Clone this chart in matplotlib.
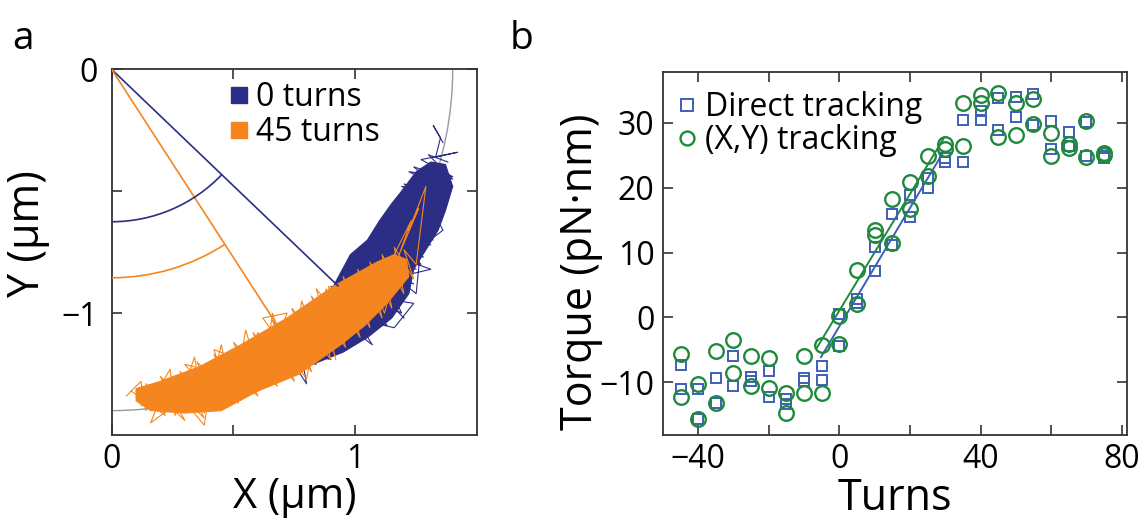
import numpy as np
import matplotlib
matplotlib.use('Agg')
import matplotlib.pyplot as plt
from matplotlib.patches import Arc, Polygon
from matplotlib.lines import Line2D

plt.rcParams['font.family'] = ['Open Sans', 'DejaVu Sans']
plt.rcParams['axes.unicode_minus'] = True

# ---------------- panel b data ----------------
turns = [-45, -40, -35, -30, -25, -20, -15, -10, -5, 0, 5, 10, 15, 20, 25,
         30, 35, 40, 45, 50, 55, 60, 65, 70, 75]
direct_a = [-7.3, -11.0, -9.3, -6.0, -9.2, -8.2, -12.5, -9.4, -7.4, 0.5, 2.9,
            10.8, 16.0, 18.9, 21.5, 24.6, 30.4, 31.8, 33.8, 34.0, 34.4, 30.3,
            28.6, 30.1, 24.5]
direct_b = [-11.0, -15.6, -13.1, -10.5, -9.8, -12.2, -13.3, -9.8, -9.7, -4.4,
            2.3, 7.2, 11.2, 15.5, 20.0, 24.0, 24.0, 30.4, 28.9, 30.9, 29.6,
            25.9, 26.4, 24.9, 24.8]
xy_a = [-5.6, -10.2, -5.1, -3.5, -5.9, -6.3, -11.7, -5.9, -4.2, 0.3, 7.3,
        13.5, 18.2, 20.8, 24.8, 26.7, 33.0, 34.2, 34.5, 33.0, 33.6, 28.4,
        26.7, 30.2, 25.3]
xy_b = [-12.3, -15.6, -13.1, -8.5, -10.5, -10.8, -14.7, -11.6, -11.7, -4.1,
        2.0, 12.7, 11.4, 16.7, 21.8, 26.0, 26.4, 33.0, 27.8, 28.1, 29.8,
        24.9, 26.1, 24.7, 25.0]
fit_direct_turns = [-5.2, 29.5]
fit_direct_torque = [-6.1, 25.5]
fit_xy_turns = [-6.3, 29.8]
fit_xy_torque = [-4.6, 27.8]

# ---------------- panel a data ----------------
circle_radius = 1.40
line0_end = [0.929, -0.888]
line45_end = [0.690, -1.066]
arc0_radius = 0.625
arc45_radius = 0.855
angle0_deg = 46.3
angle45_deg = 32.9

blue_env_x = [0.62, 0.75, 0.91, 0.98, 1.05, 1.10, 1.15, 1.19, 1.25, 1.31,
              1.37, 1.40, 1.37, 1.34, 1.29, 1.24, 1.22, 1.15, 1.05, 0.95,
              0.80, 0.70]
blue_env_y = [-1.14, -1.04, -0.89, -0.76, -0.70, -0.62, -0.55, -0.50, -0.42,
              -0.38, -0.39, -0.48, -0.58, -0.66, -0.74, -0.82, -0.92, -1.02,
              -1.10, -1.16, -1.22, -1.20]
blue_walk_x = [1.36, 1.32, 1.35, 1.33, 1.42, 1.27, 1.40, 1.22, 1.39, 1.19,
               1.37, 1.21, 1.40, 1.17, 1.35, 1.15, 1.33, 1.12, 1.31, 1.08,
               1.28, 1.04, 1.25, 1.00, 1.24, 0.97, 1.21, 0.94, 1.18, 0.90,
               1.15, 0.86, 1.12, 0.82, 1.08, 0.78, 1.04, 0.74, 1.00, 0.70,
               0.96, 0.66, 0.90, 0.62, 0.84, 0.69, 0.80, 0.76, 0.98, 0.84,
               1.10, 0.93, 1.17, 0.99, 1.22, 1.06, 1.27, 1.12, 1.32, 1.16,
               1.36, 1.20, 1.38, 1.24, 1.40, 1.30, 1.38]
blue_walk_y = [-0.30, -0.23, -0.28, -0.36, -0.34, -0.37, -0.44, -0.42, -0.50,
               -0.48, -0.55, -0.53, -0.48, -0.57, -0.62, -0.60, -0.68, -0.64,
               -0.72, -0.69, -0.77, -0.73, -0.82, -0.77, -0.88, -0.81, -0.93,
               -0.85, -0.96, -0.89, -1.00, -0.93, -1.03, -0.96, -1.06, -0.99,
               -1.09, -1.03, -1.12, -1.06, -1.15, -1.10, -1.19, -1.14, -1.21,
               -1.12, -1.29, -1.06, -1.10, -0.95, -1.04, -0.86, -0.98, -0.79,
               -0.90, -0.72, -0.80, -0.63, -0.70, -0.55, -0.60, -0.47, -0.52,
               -0.40, -0.45, -0.35, -0.38]
blue_walk2_x = [1.18, 1.30, 1.22, 1.34, 1.26, 1.36, 1.20, 1.31, 1.14, 1.28,
                1.25, 1.10, 1.19, 1.02, 1.13, 0.96, 1.07, 0.90, 1.16, 1.24,
                1.12, 1.20]
blue_walk2_y = [-0.62, -0.50, -0.70, -0.58, -0.46, -0.66, -0.78, -0.82,
                -0.86, -0.62, -0.92, -0.80, -1.00, -0.90, -1.05, -0.95,
                -1.13, -1.00, -1.06, -0.96, -0.94, -1.02]

orange_env_x = [0.10, 0.20, 0.36, 0.53, 0.72, 0.91, 1.00, 1.09, 1.16, 1.21,
                1.22, 1.13, 1.04, 0.94, 0.77, 0.60, 0.45, 0.30, 0.16, 0.10]
orange_env_y = [-1.31, -1.28, -1.22, -1.13, -1.02, -0.89, -0.84, -0.79,
                -0.76, -0.78, -0.85, -0.96, -1.05, -1.13, -1.25, -1.32, -1.40,
                -1.41, -1.40, -1.36]
orange_walk_x = [0.08, 0.22, 0.14, 0.30, 0.20, 0.38, 0.28, 0.44, 0.35, 0.52,
                 0.42, 0.60, 0.50, 0.68, 0.58, 0.75, 0.66, 0.82, 0.74, 0.90,
                 0.82, 0.96, 0.89, 1.02, 0.95, 1.06, 1.01, 1.11, 1.06, 1.15,
                 1.11, 1.20, 1.16, 1.24, 1.20, 1.25, 1.29, 1.22, 1.26, 1.18,
                 1.23, 1.14, 1.08, 1.00, 0.96, 0.88, 0.86, 0.78, 0.74, 0.66,
                 0.62, 0.55, 0.50, 0.45, 0.38, 0.34, 0.26, 0.24, 0.14, 0.12,
                 0.06]
orange_walk_y = [-1.32, -1.42, -1.29, -1.44, -1.26, -1.43, -1.24, -1.40,
                 -1.20, -1.37, -1.17, -1.34, -1.12, -1.30, -1.08, -1.28,
                 -1.03, -1.24, -0.98, -1.19, -0.93, -1.14, -0.89, -1.10,
                 -0.85, -1.06, -0.82, -1.02, -0.79, -0.98, -0.76, -0.92,
                 -0.73, -0.86, -0.74, -0.80, -0.48, -0.66, -0.57, -0.76,
                 -0.62, -0.80, -1.00, -0.84, -1.08, -0.90, -1.16, -0.95,
                 -1.24, -1.00, -1.30, -1.07, -1.36, -1.13, -1.41, -1.18,
                 -1.42, -1.23, -1.40, -1.28, -1.34]
orange_walk2_x = [0.10, 0.18, 0.12, 0.22, 0.16, 0.27, 0.25, 0.33, 0.38, 0.40,
                  0.30, 0.45, 0.42, 0.55, 0.60, 0.66, 0.72, 0.62, 0.80, 0.86,
                  0.92, 0.84, 0.98, 1.05, 1.12, 1.18]
orange_walk2_y = [-1.32, -1.36, -1.38, -1.30, -1.45, -1.37, -1.26, -1.40,
                  -1.46, -1.33, -1.21, -1.25, -1.15, -1.20, -1.08, -1.16,
                  -1.00, -1.02, -1.27, -0.95, -1.19, -0.90, -1.08, -0.83,
                  -1.00, -0.78]

NAVY = '#2b2e84'
ORANGE = '#f5861f'
BLUE = '#3d5fb6'
GREEN = '#1f8a3c'
SPINE = '#333333'

fig = plt.figure(figsize=(11.41, 5.20), dpi=100)

# ================= panel a =================
axa = fig.add_axes([0.0979, 0.1635, 0.3202, 0.703])
axa.add_patch(Arc((0, 0), 2 * circle_radius, 2 * circle_radius, theta1=-90,
                  theta2=0, color='#9a9a9a', lw=1.0, zorder=1))
axa.add_patch(Polygon(np.column_stack([blue_env_x, blue_env_y]), closed=True,
                      facecolor=NAVY, edgecolor=NAVY, lw=0.8, zorder=2.0))
axa.plot(blue_walk_x, blue_walk_y, color=NAVY, lw=0.8, zorder=2.1)
axa.plot(blue_walk2_x, blue_walk2_y, color=NAVY, lw=0.8, zorder=2.1)
axa.add_patch(Polygon(np.column_stack([orange_env_x, orange_env_y]), closed=True,
                      facecolor=ORANGE, edgecolor=ORANGE, lw=0.8, zorder=2.2))
axa.plot(orange_walk_x, orange_walk_y, color=ORANGE, lw=0.8, zorder=2.3)
axa.plot(orange_walk2_x, orange_walk2_y, color=ORANGE, lw=0.8, zorder=2.3)
axa.plot([0, line0_end[0]], [0, line0_end[1]], color=NAVY, lw=1.2, zorder=3)
axa.plot([0, line45_end[0]], [0, line45_end[1]], color=ORANGE, lw=1.2, zorder=3)
axa.add_patch(Arc((0, 0), 2 * arc0_radius, 2 * arc0_radius, theta1=-90,
                  theta2=-90 + angle0_deg, color=NAVY, lw=1.2, zorder=3))
axa.add_patch(Arc((0, 0), 2 * arc45_radius, 2 * arc45_radius, theta1=-90,
                  theta2=-90 + angle45_deg, color=ORANGE, lw=1.2, zorder=3))
axa.set_xlim(0, 1.5)
axa.set_ylim(-1.5, 0)
axa.set_xticks([0, 0.5, 1.0])
axa.set_xticklabels(['0', '', '1'])
axa.set_yticks([-1.0, -0.5, 0])
axa.set_yticklabels(['\u22121', '', '0'])
axa.tick_params(direction='in', length=7, width=1.2, colors=SPINE,
                labelcolor='black', labelsize=23, top=True, right=True, pad=10)
axa.tick_params(axis='x', pad=6)
for s in axa.spines.values():
    s.set_color(SPINE)
    s.set_linewidth(1.3)
axa.set_xlabel('X (\u00b5m)', fontsize=30, labelpad=0)
axa.set_ylabel('Y (\u00b5m)', fontsize=31, labelpad=2)
axa.yaxis.set_label_coords(-0.17, 0.55)
axa.legend(handles=[
    Line2D([], [], marker='s', color=NAVY, ls='none', markersize=11),
    Line2D([], [], marker='s', color=ORANGE, ls='none', markersize=11)],
    labels=['0 turns', '45 turns'], loc='upper left',
    bbox_to_anchor=(0.26, 1.02), frameon=False, fontsize=23,
    handletextpad=0.15, labelspacing=0.05, handlelength=0.8,
    borderaxespad=0.2)
fig.text(0.011, 0.905, 'a', fontsize=28)

# ================= panel b =================
axb = fig.add_axes([0.581, 0.1635, 0.4067, 0.698])
axb.plot(fit_direct_turns, fit_direct_torque, color=BLUE, lw=1.4, zorder=2)
axb.plot(fit_xy_turns, fit_xy_torque, color=GREEN, lw=1.4, zorder=2)
for vals in (direct_a, direct_b):
    axb.plot(turns, vals, ls='none', marker='s', markersize=7.8,
             markerfacecolor='none', markeredgecolor=BLUE, markeredgewidth=1.4,
             zorder=3)
for vals in (xy_a, xy_b):
    axb.plot(turns, vals, ls='none', marker='o', markersize=10.5,
             markerfacecolor='none', markeredgecolor=GREEN,
             markeredgewidth=1.7, zorder=4)
axb.set_xlim(-50, 81.5)
axb.set_ylim(-18.1, 37.8)
axb.set_xticks([-40, -20, 0, 20, 40, 60, 80])
axb.set_xticklabels(['\u221240', '', '0', '', '40', '', '80'])
axb.set_yticks([-10, 0, 10, 20, 30])
axb.set_yticklabels(['\u221210', '0', '10', '20', '30'])
axb.tick_params(direction='in', length=7, width=1.2, colors=SPINE,
                labelcolor='black', labelsize=23, top=True, right=True, pad=6)
for s in axb.spines.values():
    s.set_color(SPINE)
    s.set_linewidth(1.3)
axb.set_xlabel('Turns', fontsize=31, labelpad=0)
axb.set_ylabel('Torque (pN\u00b7nm)', fontsize=31, labelpad=2)
axb.yaxis.set_label_coords(-0.13, 0.45)
axb.legend(handles=[
    Line2D([], [], marker='s', ls='none', markersize=9, markerfacecolor='none',
           markeredgecolor=BLUE, markeredgewidth=1.4),
    Line2D([], [], marker='o', ls='none', markersize=10, markerfacecolor='none',
           markeredgecolor=GREEN, markeredgewidth=1.7)],
    labels=['Direct tracking', '(X,Y) tracking'], loc='upper left',
    bbox_to_anchor=(-0.02, 1.0), frameon=False, fontsize=23,
    handletextpad=0.1, labelspacing=0.0, handlelength=0.9,
    borderaxespad=0.2)
fig.text(0.447, 0.905, 'b', fontsize=28)

fig.savefig('out.png', dpi=100)
